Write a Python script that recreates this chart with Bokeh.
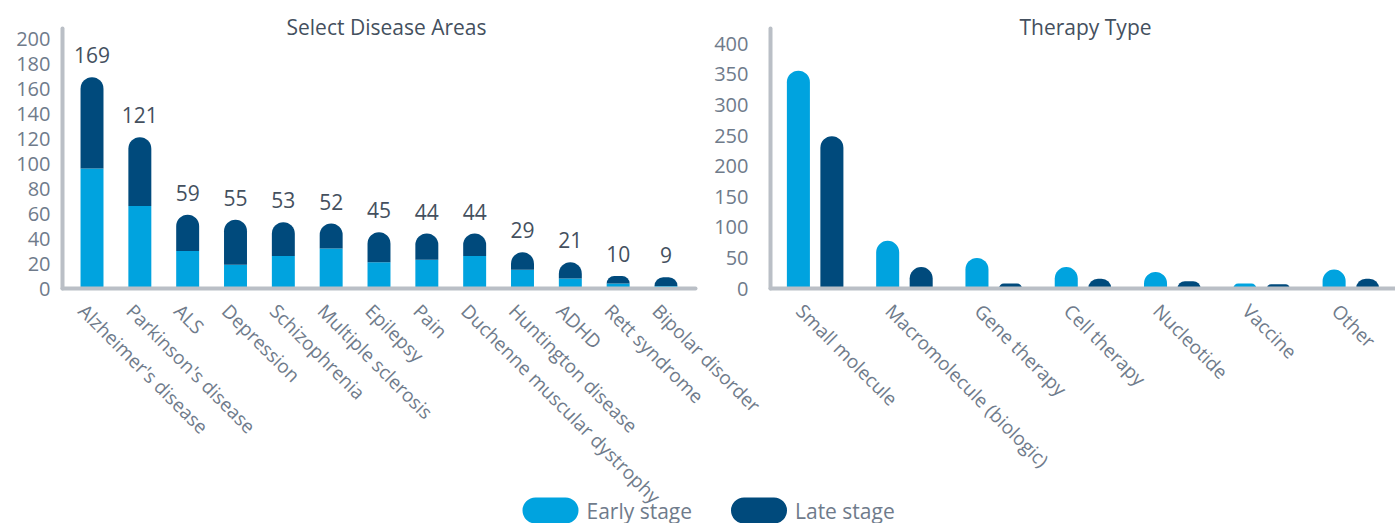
import math
from bokeh.plotting import figure
from bokeh.models import (FixedTicker, ColumnDataSource, LabelSet, Range1d, GlobalInlineStyleSheet)
from bokeh.layouts import column, row
from bokeh.transform import dodge
from bokeh.core.properties import value
from bokeh.embed import file_html
from bokeh.resources import INLINE

# ---------------- data ----------------
diseases = ["Alzheimer's disease", "Parkinson's disease", "ALS", "Depression", "Schizophrenia",
            "Multiple sclerosis", "Epilepsy", "Pain", "Duchenne muscular dystrophy",
            "Huntington disease", "ADHD", "Rett syndrome", "Bipolar disorder"]
disease_early = [96, 66, 30, 19, 26, 32, 21, 23, 26, 15, 8, 4, 2]
disease_late = [73, 55, 29, 36, 27, 20, 24, 21, 18, 14, 13, 6, 7]
disease_totals = [169, 121, 59, 55, 53, 52, 45, 44, 44, 29, 21, 10, 9]

therapies = ["Small molecule", "Macromolecule (biologic)", "Gene therapy", "Cell therapy",
             "Nucleotide", "Vaccine", "Other"]
therapy_early = [356, 78, 50, 35, 27, 8, 31]
therapy_late = [249, 35, 8, 16, 12, 7, 16]

series = ["Early stage", "Late stage"]
left_ticks = [0, 20, 40, 60, 80, 100, 120, 140, 160, 180, 200]
right_ticks = [0, 50, 100, 150, 200, 250, 300, 350, 400]
titles = ["Select Disease Areas", "Therapy Type"]

# ---------------- style ----------------
EARLY = "#00a3df"
LATE = "#004a7c"
AXIS = "#babfc6"
TICK = "#6f7b8b"
TXT = "#44505e"
FONT = "Open Sans"
PAGE_W, PAGE_H = 1395, 523
CHART_H = 545                      # lower part (below the rotated labels) is simply white
FRAME_TOP, FRAME_BOTTOM = 28, 288


def category_range(n, pad, frame_w, shift_px):
    """Numeric x range: category i has its label tick at i; its bars sit at i + shift."""
    span = n + 2 * pad
    shift = shift_px * span / frame_w
    start = -pad - 0.5 + shift
    return Range1d(start, start + span), shift


def style(p, names, ticks, standoff):
    p.outline_line_color = None
    p.grid.visible = False
    p.background_fill_color = None
    p.border_fill_color = None
    p.yaxis.ticker = FixedTicker(ticks=ticks)
    p.xaxis.ticker = FixedTicker(ticks=list(range(len(names))))
    p.xaxis.major_label_overrides = {i: nm for i, nm in enumerate(names)}
    for ax in (p.xaxis[0], p.yaxis[0]):
        ax.axis_line_color = AXIS
        ax.axis_line_width = 4
        ax.axis_line_cap = "round"
        ax.major_tick_line_color = None
        ax.minor_tick_line_color = None
        ax.major_label_text_color = TICK
        ax.major_label_text_font = FONT
    p.yaxis.major_label_text_font_size = "20px"
    p.xaxis.major_label_text_font_size = "19px"
    p.yaxis.major_label_standoff = standoff
    p.xaxis.major_label_orientation = -math.pi / 4
    p.xaxis.major_label_standoff = 13


# ---------------- left chart ----------------
src1 = ColumnDataSource(dict(
    idx=list(range(len(diseases))), early=disease_early, late=disease_late,
    total=[e + l for e, l in zip(disease_early, disease_late)],
    label=[str(t) for t in disease_totals],
    zero=[0] * len(diseases),
))

L_PAD, L_FRAME_W, P1_W = 0.117, 633, 795
xr1, sh1 = category_range(len(diseases), L_PAD, L_FRAME_W, 10)
p1 = figure(x_range=xr1, y_range=Range1d(0, 208),
            width=P1_W, height=CHART_H, min_border_left=62, min_border_right=P1_W - 62 - L_FRAME_W,
            min_border_top=FRAME_TOP, min_border_bottom=CHART_H - FRAME_BOTTOM,
            output_backend="svg", toolbar_location=None)
style(p1, diseases, left_ticks, 6)

p1.vbar(x=dodge("idx", sh1), bottom="zero", top="early", width=0.48, source=src1,
        fill_color=EARLY, line_color=None)
p1.vbar(x=dodge("idx", sh1), bottom="early", top="total", width=0.48, source=src1,
        fill_color=LATE, line_color=None, border_radius=(12, 12, 0, 0))
p1.add_layout(LabelSet(x=dodge("idx", sh1), y="total", text="label", source=src1, y_offset=14,
                       text_align="center", text_baseline="alphabetic",
                       text_font=value(FONT), text_font_size="21px", text_color=TXT))

# ---------------- right chart ----------------
src2 = ColumnDataSource(dict(idx=list(range(len(therapies))), early=therapy_early,
                             late=therapy_late, zero=[0] * len(therapies)))

R_FRAME_LEFT, R_BORDER_L = 770, 75
R_FRAME_W = PAGE_W - R_FRAME_LEFT
p2_left = R_FRAME_LEFT - R_BORDER_L
xr2, sh2 = category_range(len(therapies), 0, R_FRAME_W, 15.5)
p2 = figure(x_range=xr2, y_range=Range1d(0, 425),
            width=PAGE_W - p2_left, height=CHART_H, min_border_left=R_BORDER_L, min_border_right=0,
            min_border_top=FRAME_TOP, min_border_bottom=CHART_H - FRAME_BOTTOM,
            output_backend="svg", toolbar_location=None)
style(p2, therapies, right_ticks, 16)
p2.styles = {"margin-left": f"{p2_left - P1_W}px"}

DODGE, BW = 0.1876, 0.258
p2.vbar(x=dodge("idx", sh2 - DODGE), bottom="zero", top="early", width=BW,
        source=src2, fill_color=EARLY, line_color=None, border_radius=(12, 12, 0, 0))
p2.vbar(x=dodge("idx", sh2 + DODGE), bottom="zero", top="late", width=BW,
        source=src2, fill_color=LATE, line_color=None, border_radius=(12, 12, 0, 0))

# ---------------- background sheet: titles + legend (page pixel coordinates) ----------------
p0 = figure(width=PAGE_W, height=PAGE_H, x_range=Range1d(0, PAGE_W), y_range=Range1d(PAGE_H, 0),
            min_border=0, x_axis_location=None, y_axis_location=None,
            output_backend="svg", toolbar_location=None)
p0.outline_line_color = None
p0.grid.visible = False

title_x = [386, 1085]
p0.text(x=title_x, y=[26] * len(titles), text=titles, text_align="center",
        text_baseline="alphabetic", text_font=value(FONT), text_font_size="21px",
        text_color=TXT)

legend_x0, legend_step, swatch_w, swatch_h, swatch_top = 550, 208.5, 56, 28, 497
sw_x = [legend_x0 + i * legend_step for i in range(len(series))]
p0.vbar(x=sw_x, top=swatch_top, bottom=swatch_top + swatch_h, width=swatch_w,
        fill_color=[EARLY, LATE], line_color=None, border_radius=14)
p0.text(x=[x + swatch_w / 2 + 8 for x in sw_x], y=[510] * len(series), text=series,
        text_font=value(FONT), text_font_size="21px", text_color=TICK,
        text_baseline="alphabetic", text_align="left")

charts = row(p1, p2)
charts.styles = {"margin-top": f"-{PAGE_H}px"}
layout = column(p0, charts)
layout.stylesheets = [GlobalInlineStyleSheet(css="html, body { overflow: hidden; }")]

open("out.html", "w").write(file_html(layout, INLINE))
